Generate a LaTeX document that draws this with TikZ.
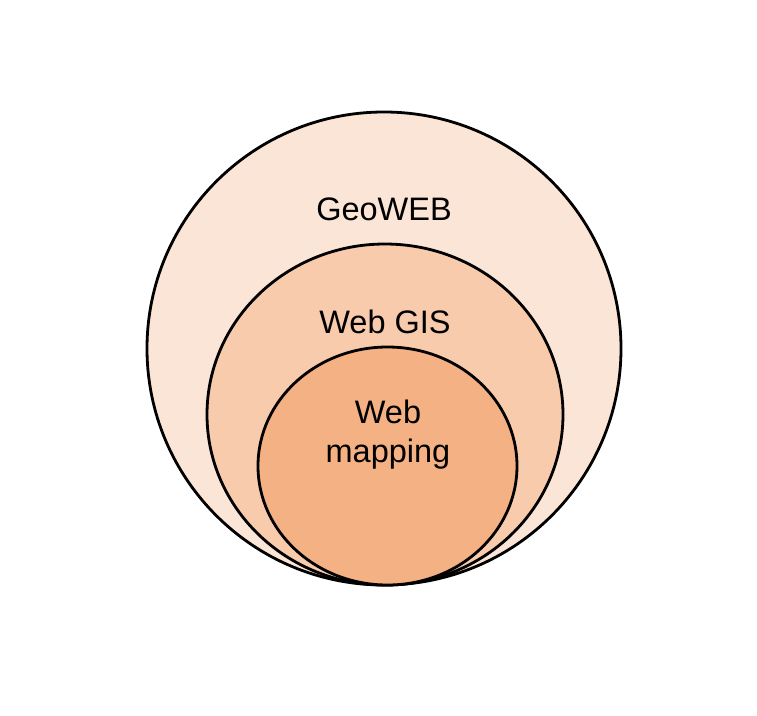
\documentclass[tikz,border=0pt]{standalone}
\usepackage{fontspec}
\setmainfont{Liberation Sans}
\definecolor{outerc}{HTML}{FBE5D6}
\definecolor{midc}{HTML}{F8CBAD}
\definecolor{innerc}{HTML}{F4B183}
\tikzset{
  ring/.style={draw=black, line width=2.8bp},
  lbl/.style={anchor=base, inner sep=0pt, font=\fontsize{32.5bp}{39bp}\selectfont, align=center}
}
\begin{document}
\begin{tikzpicture}[x=1bp,y=-1bp]
\useasboundingbox (0,0) rectangle (757,716);
\path[ring, fill=outerc] (384,348.5) ellipse [x radius=237, y radius=236.5];
\path[ring, fill=midc] (385,414.5) ellipse [x radius=178, y radius=170.5];
\path[ring, fill=innerc] (387.5,466) ellipse [x radius=129.5, y radius=119];
\node[lbl] (geo) at (384,220) {GeoWEB};
\node[lbl] (gis) at (385,333) {Web GIS};
\node[lbl] (web) at (388,423) {Web};
\node[lbl] (map) at (388,462) {mapping};
\end{tikzpicture}
\end{document}
